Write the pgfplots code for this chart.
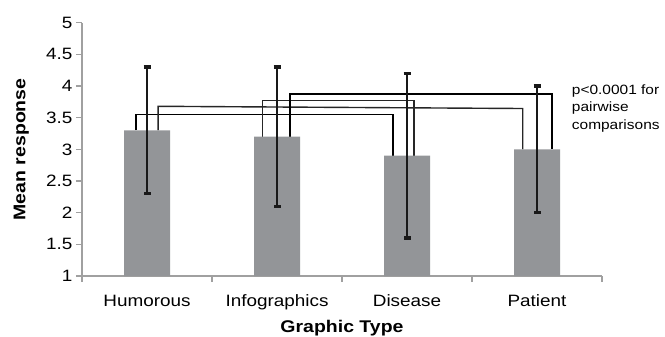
\documentclass[border=0pt]{standalone}
\usepackage{pgfplots}
\pgfplotsset{compat=1.18}
\usepackage{fontspec}
\setmainfont{Liberation Sans}[FakeStretch=1.15]
\definecolor{barg}{RGB}{147,149,152}
\definecolor{axg}{RGB}{160,160,160}
\begin{document}
\begin{tikzpicture}[x=1bp,y=1bp]
\path[use as bounding box] (-82,-60) rectangle (583,276);
\begin{axis}[
  at={(0,0)}, anchor=south west,
  scale only axis, width=520bp, height=253.3bp,
  xmin=-0.5, xmax=3.5, ymin=1, ymax=5,
  clip mode=individual,
  axis x line=bottom, axis y line=left,
  axis line style={axg, line width=1.5bp, -},
  tick align=outside,
  major tick length=6bp,
  tick style={axg, line width=1.5bp},
  xtick={-0.5,0.5,1.5,2.5,3.5}, xticklabels={},
  extra x ticks={0,1,2,3},
  extra x tick labels={Humorous,Infographics,Disease,Patient},
  extra x tick style={major tick length=0pt},
  ytick={1,1.5,2,2.5,3,3.5,4,4.5,5},
  /pgf/number format/assume math mode=true,
  tick label style={font=\fontsize{16.5}{18}\selectfont, text=black},
  xticklabel style={anchor=base, yshift=-30bp},
  yticklabel style={anchor=east},
  xlabel={Graphic Type},
  ylabel={Mean response},
  every axis x label/.style={at={(axis description cs:0.5,0)}, yshift=-56.7bp, anchor=base, font=\bfseries\fontsize{17}{19}\selectfont},
  every axis y label/.style={at={(axis description cs:0,0.5)}, xshift=-56.5bp, rotate=90, anchor=base, font=\bfseries\fontsize{17}{19}\selectfont},
]
\draw[black, line width=1.9bp] (axis cs:-0.085,3.3) -- (axis cs:-0.085,3.55) -- (axis cs:1.895,3.55) -- (axis cs:1.895,2.9);
\draw[black!85, line width=1.4bp] (axis cs:0.085,3.3) -- (axis cs:0.085,3.68) -- (axis cs:2.89,3.645) -- (axis cs:2.89,3.0);
\draw[black!85, line width=1.4bp] (axis cs:0.887,3.2) -- (axis cs:0.887,3.776) -- (axis cs:2.054,3.776) -- (axis cs:2.054,2.9);
\draw[black, line width=1.9bp] (axis cs:1.1,3.2) -- (axis cs:1.1,3.87) -- (axis cs:3.113,3.87) -- (axis cs:3.113,3.0);
\addplot[ybar, bar width=46bp, fill=barg, draw=none,
  error bars/.cd, y dir=both, y explicit,
  error bar style={line width=2.7bp, black!90},
  error mark options={rotate=90, mark size=3.5bp, line width=3.2bp, black!90}]
  coordinates {(0,3.3) +- (0,1.0) (1,3.2) +- (0,1.1) (2,2.9) +- (0,1.3) (3,3.0) +- (0,1.0)};
\node[anchor=base west, inner sep=0, font=\fontsize{13.5}{16}\selectfont] at (axis cs:3.267,3.871) {p<0.0001 for};
\node[anchor=base west, inner sep=0, font=\fontsize{13.5}{16}\selectfont] at (axis cs:3.267,3.595) {pairwise};
\node[anchor=base west, inner sep=0, font=\fontsize{13.5}{16}\selectfont] at (axis cs:3.267,3.319) {comparisons};
\end{axis}
\end{tikzpicture}
\end{document}
